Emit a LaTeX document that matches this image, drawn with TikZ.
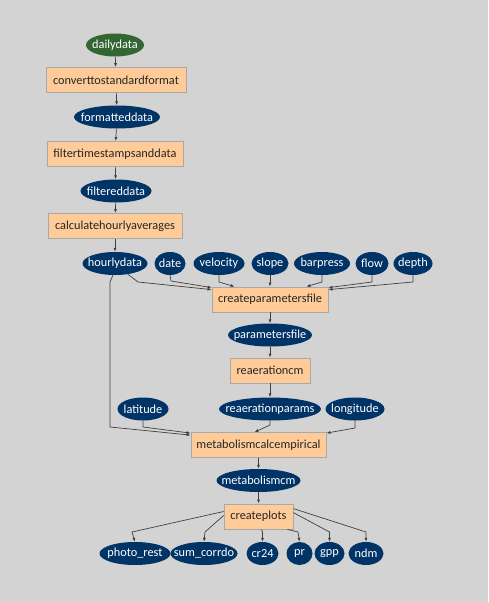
\documentclass[tikz,border=0pt]{standalone}
\usepackage{fontspec}
\setmainfont{Carlito}
\usetikzlibrary{arrows.meta,shapes.geometric}
\definecolor{bg}{HTML}{D3D3D3}
\definecolor{navy}{HTML}{003366}
\definecolor{leaf}{HTML}{336633}
\definecolor{peach}{HTML}{FFCC99}
\definecolor{boxline}{HTML}{A8A8A8}
\definecolor{wire}{HTML}{404040}
\begin{document}
\begin{tikzpicture}[x=1pt,y=-1pt,
  font=\fontsize{12.3}{14}\selectfont,
  % label set in a zero-width box so the ellipse keeps its given width
  data/.style={ellipse,fill=navy,text=white,inner sep=0pt,minimum height=23pt,minimum width=#1,
    execute at begin node={\hbox to 0pt\bgroup\hss},execute at end node={\hss\egroup}},
  source/.style={data=#1,fill=leaf},
  task/.style={rectangle,draw=boxline,line width=0.8pt,fill=peach,text=black!85,inner sep=0pt,minimum height=25pt,minimum width=#1},
  edge/.style={draw=wire,line width=0.7pt,-{Latex[length=4pt,width=3pt]}}]
\fill[bg] (0,0) rectangle (488,602);
\useasboundingbox (0,0) rectangle (488,602);

% main chain
\node[source=58pt] (dailydata) at (115,45) {dailydata};
\node[task=140pt] (convert) at (116,80) {converttostandardformat};
\node[data=86pt] (formatted) at (117,117) {formatteddata};
\node[task=136pt] (filter) at (115,154) {filtertimestampsanddata};
\node[data=71pt] (filtered) at (116,191) {filtereddata};
\node[task=134pt] (hourly) at (115,226) {calculatehourlyaverages};

% inputs of createparametersfile
\node[data=65pt] (hourlydata) at (115,263.5) {hourlydata};
\node[data=31pt] (date) at (170,263.5) {date};
\node[data=51pt] (velocity) at (219,263.5) {velocity};
\node[data=37pt] (slope) at (270,263.5) {slope};
\node[data=56pt] (barpress) at (322,263.5) {barpress};
\node[data=33pt] (flow) at (372,263.5) {flow};
\node[data=39pt] (depth) at (413,263.5) {depth};

\node[task=116pt] (cpf) at (270,299.5) {createparametersfile};
\node[data=84pt] (paramfile) at (270,335) {parametersfile};
\node[task=80pt] (reaer) at (270,370.5) {reaerationcm};

\node[data=51pt] (latitude) at (143,409) {latitude};
\node[data=102pt] (reparams) at (270,409) {reaerationparams};
\node[data=59pt] (longitude) at (355,409) {longitude};

\node[task=135pt] (mce) at (258.5,445) {metabolismcalcempirical};
\node[data=84pt] (metabcm) at (258.5,480.5) {metabolismcm};
\node[task=69pt] (plots) at (258.5,516.5) {createplots};

% outputs
\node[data=71pt] (photo) at (135,553.5) {photo\_rest};
\node[data=67pt] (sumcorr) at (204,553.5) {sum\_corrdo};
\node[data=32pt] (cr24) at (262.5,553.5) {cr24};
\node[data=26pt] (pr) at (299.5,553.5) {pr};
\node[data=30pt] (gpp) at (329.5,553.5) {gpp};
\node[data=35pt] (ndm) at (366,553.5) {ndm};

% straight links of the chain
\draw[edge] (dailydata) -- (convert);
\draw[edge] (convert) -- (formatted);
\draw[edge] (formatted) -- (filter);
\draw[edge] (filter) -- (filtered);
\draw[edge] (filtered) -- (hourly);
\draw[edge] (hourly) -- (hourlydata);
\draw[edge] (slope) -- (cpf);
\draw[edge] (cpf) -- (paramfile);
\draw[edge] (paramfile) -- (reaer);
\draw[edge] (reaer) -- (reparams);
\draw[edge] (mce) -- (metabcm);
\draw[edge] (metabcm) -- (plots);

% fan-in to createparametersfile
\draw[edge] (hourlydata.-40) -- (138,282) -- ([yshift=-3pt]cpf.north west);
\draw[edge] (date.south) -- (171,281) -- ([yshift=-1pt]cpf.north west);
\draw[edge] (velocity.south) -- (219,282) -- ([xshift=23pt]cpf.north west);
\draw[edge] (barpress.south) -- (322,282) -- ([xshift=-22pt]cpf.north east);
\draw[edge] (flow.south) -- (372,282) -- ([yshift=-1pt]cpf.north east);
\draw[edge] (depth.south) -- (413,282) -- ([yshift=-3pt]cpf.north east);

% fan-in to metabolismcalcempirical
\draw[edge] (hourlydata.-100) -- (110,282) -- (110,427) -- ([yshift=-3pt]mce.north west);
\draw[edge] (latitude.south) -- (143,427) -- ([yshift=-1pt]mce.north west);
\draw[edge] (reparams.south) -- (270,425) -- ([xshift=-4pt]mce.north);
\draw[edge] (longitude.south) -- (355,428) -- ([yshift=-1pt]mce.north east);

% fan-out from createplots
\draw[edge] ([yshift=5pt]plots.west) -- (132,532) -- (photo.north);
\draw[edge] ([yshift=1pt]plots.west) -- (205,532) -- (sumcorr.north);
\draw[edge] ([xshift=3pt]plots.south) -- (262.5,532) -- (cr24.north);
\draw[edge] ([xshift=-6pt]plots.south east) -- (298,532) -- (pr.north);
\draw[edge] ([yshift=-9pt]plots.north east) -- (329.5,532) -- (gpp.north);
\draw[edge] ([yshift=-5pt]plots.north east) -- (366,532) -- (ndm.north);
\end{tikzpicture}
\end{document}
